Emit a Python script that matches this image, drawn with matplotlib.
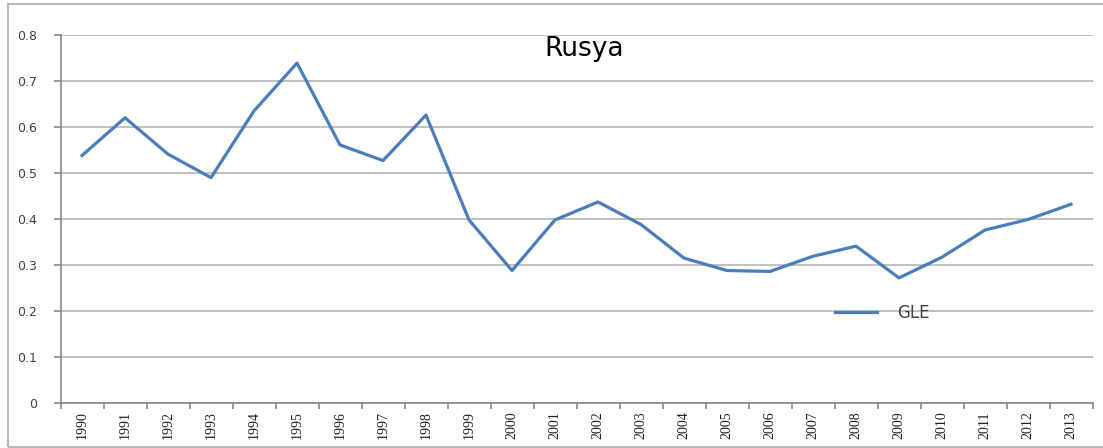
import matplotlib
matplotlib.use("Agg")
import matplotlib.pyplot as plt
from matplotlib.patches import Rectangle
from matplotlib.ticker import FixedLocator

years = [str(y) for y in range(1990, 2014)]
gle = [0.538, 0.620, 0.541, 0.490, 0.635, 0.739, 0.561, 0.527, 0.626, 0.398,
       0.288, 0.398, 0.437, 0.388, 0.315, 0.288, 0.286, 0.319, 0.341, 0.272,
       0.317, 0.376, 0.399, 0.432]
yticks = [0, 0.1, 0.2, 0.3, 0.4, 0.5, 0.6, 0.7, 0.8]
ytick_labels = ["0", "0.1", "0.2", "0.3", "0.4", "0.5", "0.6", "0.7", "0.8"]
title = "Rusya"
series_name = "GLE"

W, H = 1103, 448
fig = plt.figure(figsize=(W / 100, H / 100), dpi=100)
fig.patch.set_facecolor("white")

# outer chart frame
fig.patches.append(Rectangle((8 / W, 1 / H), (W - 6) / W, (H - 5) / H,
                             transform=fig.transFigure, fill=False,
                             edgecolor="#b8b8b8", linewidth=1.5))

left, right, top, bottom = 60.5, 1092.5, 35, 403
ax = fig.add_axes([left / W, 1 - bottom / H, (right - left) / W, (bottom - top) / H])

x = list(range(len(years)))
ax.plot(x, gle, color="#4a7ebb", linewidth=2.3, label=series_name,
        solid_joinstyle="round", zorder=3)

ax.set_xlim(-0.5, len(years) - 0.5)
ax.set_ylim(0, 0.8)
ax.set_yticks(yticks)
ax.set_yticklabels(ytick_labels, fontsize=9, color="#404040", family="DejaVu Sans")
ax.grid(axis="y", color="#b5b5b5", linewidth=1.2)
ax.set_axisbelow(True)

ax.set_xticks(x)
ax.set_xticklabels(years, rotation=90, fontsize=10, family="Liberation Serif",
                   color="#202020")
ax.xaxis.set_minor_locator(FixedLocator([i - 0.5 for i in range(len(years) + 1)]))
ax.tick_params(axis="x", which="major", length=0, pad=6)
ax.tick_params(axis="x", which="minor", length=4, color="#888888", width=1.2,
               direction="out")
ax.tick_params(axis="y", length=5, color="#888888", width=1.2, pad=12)

for s in ["top", "right"]:
    ax.spines[s].set_visible(False)
for s in ["left", "bottom"]:
    ax.spines[s].set_color("#888888")
    ax.spines[s].set_linewidth(1.2)

fig.text(584 / W, 1 - 49 / H, title, ha="center", va="center",
         fontsize=19, family="DejaVu Sans", color="#000000")

leg = ax.legend(loc="center left",
                bbox_to_anchor=((835 - left) / (right - left), 1 - (313 - top) / (bottom - top)),
                frameon=False, borderpad=0, borderaxespad=0, handlelength=2.5,
                handletextpad=1.2, prop={"family": "DejaVu Sans", "size": 12})
for t in leg.get_texts():
    t.set_color("#404040")

fig.savefig("out.png", dpi=100)
